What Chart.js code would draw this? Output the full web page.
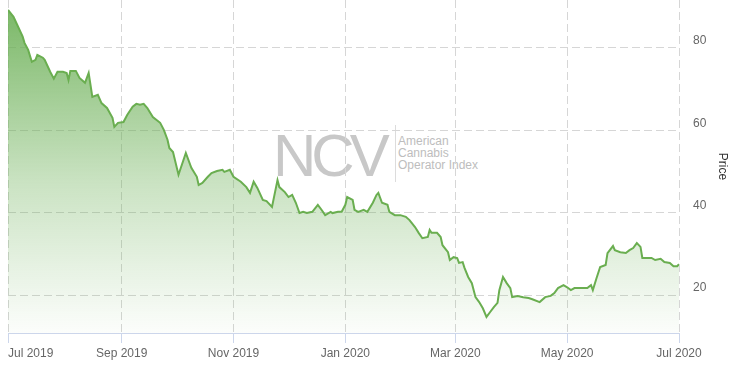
<!DOCTYPE html>
<html>
<head>
<meta charset="utf-8">
<script src="https://cdn.jsdelivr.net/npm/chart.js@4.4.0/dist/chart.umd.min.js"></script>
<style>
    body { margin: 0; background: #fff; }
    #wrap { position: relative; width: 742px; height: 369px; }
    #wrap canvas { position: absolute; left: 0; top: 0; z-index: 2; }
    .wm { position: absolute; z-index: 1; font-family: 'Liberation Sans', Arial, sans-serif; white-space: nowrap; }
    .ncv { left: 273px; top: 126px; font-size: 60px; line-height: 60px; letter-spacing: -5px; color: #c8c8c8; }
    .sep { left: 395px; top: 125px; width: 1px; height: 57px; background: #dcdcdc; }
    .sub { left: 398px; top: 135px; font-size: 12px; line-height: 12px; color: #bdbdbd; }
</style>
</head>
<body>
<div id="wrap">
    <div class="wm ncv">NCV</div>
    <div class="wm sep"></div>
    <div class="wm sub">American<br>Cannabis<br>Operator Index</div>
    <canvas id="myChart"></canvas>
</div>
<script>
Chart.defaults.font.family = "'Liberation Sans', Arial, sans-serif";
Chart.defaults.font.size = 12;

// days counted from 1 Jul 2019
var days = [0, 3, 5, 8, 9, 11, 13, 15, 16, 19, 20, 23, 25, 27, 30, 32, 33, 34, 37, 39,
    42, 44, 46, 49, 51, 54, 57, 58, 60, 63, 65, 68, 70, 72, 74, 76, 79, 83, 85, 87,
    88, 90, 93, 97, 100, 103, 104, 106, 109, 111, 114, 117, 118, 121, 123, 127, 130, 132, 134, 136,
    139, 141, 144, 147, 148, 151, 153, 155, 157, 159, 161, 163, 166, 169, 171, 173, 176, 177, 180, 182,
    184, 185, 188, 189, 191, 194, 196, 199, 201, 202, 204, 207, 208, 211, 214, 217, 219, 222, 224, 226,
    229, 230, 231, 234, 236, 237, 240, 241, 243, 245, 246, 248, 249, 251, 253, 255, 257, 259, 261, 263,
    265, 267, 268, 270, 272, 274, 275, 278, 281, 284, 286, 290, 293, 296, 298, 300, 303, 305, 307, 309,
    312, 315, 316, 318, 319, 321, 323, 326, 327, 330, 331, 334, 337, 339, 341, 343, 345, 346, 349, 351,
    353, 356, 358, 361, 363, 365, 366];

var prices = [89.2, 87.5, 85.6, 82.7, 81.2, 79.5, 76.6, 77.1, 78.3, 77.6, 77.1, 74.2, 72.5, 74.2, 74.2, 73.9, 72.2, 74.4, 74.4, 72.7,
    71.5, 73.9, 68.1, 68.6, 66.6, 65.4, 63.0, 60.8, 61.8, 62.0, 63.7, 65.7, 66.4, 66.2, 66.4, 65.4, 63.2, 61.8, 60.1, 57.7,
    55.7, 54.7, 49.2, 54.5, 50.9, 48.7, 46.7, 47.2, 48.7, 49.6, 50.1, 50.4, 49.9, 50.4, 48.7, 47.5, 46.2, 44.8, 47.5, 46.0,
    43.1, 42.8, 41.4, 47.9, 46.2, 45.0, 43.8, 44.3, 42.4, 39.9, 40.2, 39.9, 40.2, 41.9, 40.7, 39.4, 40.2, 39.9, 40.2, 40.2,
    41.9, 43.8, 43.1, 40.7, 40.2, 40.7, 40.2, 42.4, 44.3, 44.8, 42.4, 41.9, 40.2, 39.4, 39.4, 39.0, 38.2, 36.5, 35.1, 33.8,
    34.1, 35.8, 35.1, 35.1, 34.1, 32.1, 30.4, 28.5, 29.2, 29.0, 27.8, 28.0, 26.6, 24.4, 22.9, 19.5, 18.3, 16.8, 14.7, 15.9,
    17.1, 18.1, 21.2, 24.4, 22.9, 21.7, 19.5, 19.8, 19.5, 19.3, 19.0, 18.3, 19.5, 19.8, 20.5, 21.7, 22.4, 21.9, 21.2, 21.7,
    21.7, 21.7, 21.7, 22.4, 21.2, 24.1, 26.8, 27.3, 30.2, 31.9, 30.9, 30.4, 30.2, 30.9, 31.4, 32.6, 31.7, 29.0, 29.0, 29.0,
    28.5, 28.8, 28.0, 27.8, 27.0, 27.0, 27.5];

var xTickDays = [0, 62, 123, 184, 244, 305, 366];
var xTickLabels = ['Jul 2019', 'Sep 2019', 'Nov 2019', 'Jan 2020', 'Mar 2020', 'May 2020', 'Jul 2020'];
var yTicks = [20, 40, 60, 80];

var points = [];
for (var i = 0; i < days.length; i++) {
    points.push({ x: days[i], y: prices[i] });
}

function areaGradient(context) {
    var chart = context.chart;
    var area = chart.chartArea;
    if (!area) return null;
    var g = chart.ctx.createLinearGradient(0, area.top, 0, area.bottom);
    g.addColorStop(0, 'rgba(104, 174, 82, 0.9)');
    g.addColorStop(0.55, 'rgba(104, 174, 82, 0.35)');
    g.addColorStop(1, 'rgba(104, 174, 82, 0.02)');
    return g;
}

// x labels drawn by hand so the first one can sit inside the plot like the original
var xLabelsPlugin = {
    id: 'xLabels',
    afterDraw: function (chart) {
        var ctx = chart.ctx;
        var xs = chart.scales.x;
        ctx.save();
        ctx.font = "12px 'Liberation Sans', Arial, sans-serif";
        ctx.fillStyle = '#666666';
        ctx.textBaseline = 'alphabetic';
        for (var i = 0; i < xTickDays.length; i++) {
            var px = xs.getPixelForValue(xTickDays[i]);
            var w = ctx.measureText(xTickLabels[i]).width;
            var left = Math.max(px - w / 2, chart.chartArea.left);
            left = Math.min(left, chart.width - w);
            ctx.fillText(xTickLabels[i], left, 357);
        }
        ctx.restore();
    }
};

var ctx1 = document.getElementById('myChart').getContext('2d');
var myChart = new Chart(ctx1, {
    type: 'line',
    data: {
        datasets: [{
            data: points,
            borderColor: '#6aae50',
            borderWidth: 2,
            backgroundColor: areaGradient,
            fill: 'start',
            tension: 0,
            pointRadius: 0,
            pointHoverRadius: 0
        }]
    },
    plugins: [xLabelsPlugin],
    options: {
        responsive: true,
        maintainAspectRatio: false,
        animation: false,
        layout: {
            autoPadding: false,
            padding: { left: 8, top: 0, right: 0, bottom: 0 }
        },
        plugins: {
            legend: { display: false },
            tooltip: { enabled: false }
        },
        scales: {
            x: {
                type: 'linear',
                min: 0,
                max: 366,
                afterBuildTicks: function (scale) {
                    scale.ticks = xTickDays.map(function (v) { return { value: v }; });
                },
                afterFit: function (scale) {
                    scale.height = 36;
                    scale.paddingLeft = 0;
                    scale.paddingRight = 0;
                },
                ticks: { display: false },
                grid: {
                    color: '#d6d6d6',
                    tickLength: 10,
                    tickColor: '#ccd6eb',
                    tickBorderDash: []
                },
                border: {
                    display: true,
                    color: '#ccd6eb',
                    width: 1,
                    dash: [8, 4]
                }
            },
            y: {
                position: 'right',
                min: 10.8,
                max: 91.6,
                afterBuildTicks: function (scale) {
                    scale.ticks = yTicks.map(function (v) { return { value: v }; });
                },
                afterFit: function (scale) {
                    scale.width = 63;
                    scale.paddingTop = 0;
                    scale.paddingBottom = 0;
                },
                ticks: {
                    color: '#666666',
                    padding: 14,
                    labelOffset: -7
                },
                grid: {
                    color: '#d6d6d6',
                    drawTicks: false
                },
                border: {
                    display: false,
                    dash: [8, 4]
                },
                title: {
                    display: true,
                    text: 'Price',
                    color: '#333333',
                    font: { size: 12 },
                    padding: { top: 12, bottom: 0 }
                }
            }
        }
    }
});
</script>
</body>
</html>
